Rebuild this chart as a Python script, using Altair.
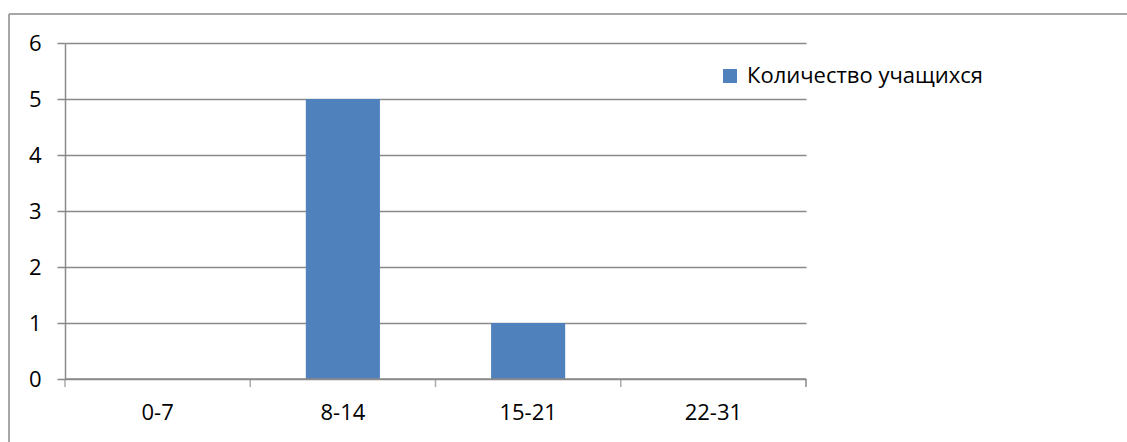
import altair as alt
import pandas as pd

# Число учащихся по интервалам
categories = ["0-7", "8-14", "15-21", "22-31"]
counts = [0, 5, 1, 0]
series_name = "Количество учащихся"

df = pd.DataFrame({"interval": categories, "count": counts, "series": series_name})

FONT = "Open Sans"
FS = 22
GRID = "#8a8a8a"
BAR = "#4F81BD"
W, H = 741, 336

x_scale = alt.Scale(domain=categories, paddingInner=0, paddingOuter=0)
y_scale = alt.Scale(domain=[0, 6])

bars = alt.Chart(df).mark_bar(
    width=alt.RelativeBandSize(0.4), color=BAR
).encode(
    x=alt.X("interval:N", scale=x_scale, sort=categories,
            axis=alt.Axis(title=None, labelFontSize=FS, labelFont=FONT,
                          labelColor="#000000", labelAngle=0, labelPadding=23,
                          ticks=False, domain=False)),
    y=alt.Y("count:Q", scale=y_scale,
            axis=alt.Axis(title=None, values=[0, 1, 2, 3, 4, 5, 6],
                          labelFontSize=FS, labelFont=FONT, labelColor="#000000",
                          labelPadding=16, tickSize=8, tickColor=GRID,
                          domainColor=GRID, gridColor=GRID, gridWidth=1.5,
                          domainWidth=1.5, tickWidth=1.5)),
    color=alt.Color("series:N", scale=alt.Scale(range=[BAR]),
                    legend=alt.Legend(title=None, orient="none", legendX=654,
                                      legendY=22, symbolType="square",
                                      symbolSize=196, symbolStrokeWidth=0,
                                      labelFontSize=FS, labelFont=FONT,
                                      labelColor="#000000", labelOffset=6,
                                      labelLimit=500)),
)

# Category boundary ticks below the baseline
x_ticks = alt.Chart(df).mark_tick(
    orient="vertical", size=8, color=GRID, thickness=1.5
).encode(
    x=alt.X("interval:N", scale=x_scale, sort=categories, bandPosition=0),
    y=alt.value(H + 4),
)

end_tick = alt.Chart(df.head(1)).mark_rule(color=GRID, strokeWidth=1.5).encode(
    x=alt.value(W), y=alt.value(H), y2=alt.value(H + 8)
)

base_line = alt.Chart(df.head(1)).mark_rule(color=GRID, strokeWidth=1.5).encode(
    x=alt.value(0), x2=alt.value(W), y=alt.value(H)
)

# Outer frame of the chart area (top and left edges)
frame_top = alt.Chart(df.head(1)).mark_rule(color=GRID, strokeWidth=1.5).encode(
    x=alt.value(-56), x2=alt.value(1200), y=alt.value(-29)
)
frame_left = alt.Chart(df.head(1)).mark_rule(color=GRID, strokeWidth=1.5).encode(
    x=alt.value(-56), y=alt.value(-29), y2=alt.value(500)
)

chart = alt.layer(
    bars, x_ticks, end_tick, base_line, frame_top, frame_left
).properties(
    width=W, height=H,
    autosize=alt.AutoSizeParams(type="none"),
    padding={"left": 65, "top": 43, "right": 1127 - 65 - W, "bottom": 442 - 43 - H},
    background="#ffffff",
).configure_view(stroke=None)

chart.save("out.html", embed_options={"renderer": "svg", "actions": False})
